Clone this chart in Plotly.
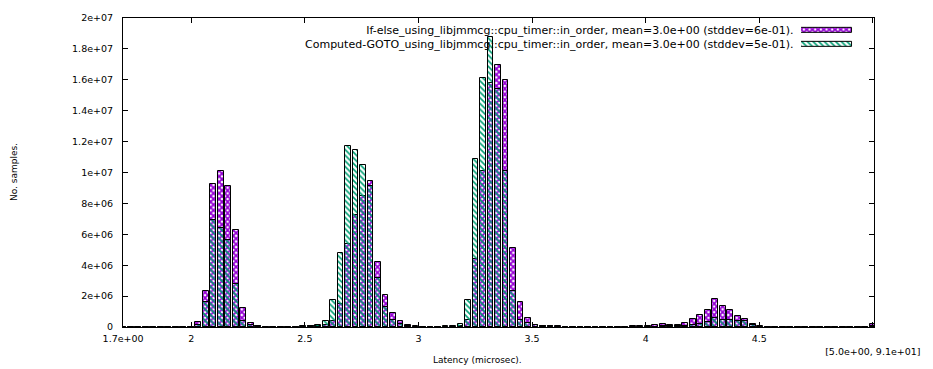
import plotly.graph_objects as go

# ---- data (values in millions of samples) ----
latency_us = [
    1.700, 1.733, 1.766, 1.799, 1.832, 1.865, 1.898, 1.931, 1.964, 1.997,
    2.030, 2.063, 2.096, 2.129, 2.162, 2.195, 2.228, 2.261, 2.294, 2.327,
    2.360, 2.393, 2.426, 2.459, 2.492, 2.525, 2.558, 2.591, 2.624, 2.657,
    2.690, 2.723, 2.756, 2.789, 2.822, 2.855, 2.888, 2.921, 2.954, 2.987,
    3.020, 3.053, 3.086, 3.119, 3.152, 3.185, 3.218, 3.251, 3.284, 3.317,
    3.350, 3.383, 3.416, 3.449, 3.482, 3.515, 3.548, 3.581, 3.614, 3.647,
    3.680, 3.713, 3.746, 3.779, 3.812, 3.845, 3.878, 3.911, 3.944, 3.977,
    4.010, 4.043, 4.076, 4.109, 4.142, 4.175, 4.208, 4.241, 4.274, 4.307,
    4.340, 4.373, 4.406, 4.439, 4.472, 4.505, 4.538, 4.571, 4.604, 4.637,
    4.670, 4.703, 4.736, 4.769, 4.802, 4.835, 4.868, 4.901, 4.934, 4.967,
    5.000,
]

if_else_millions = [
    0, 0, 0, 0, 0, 0, 0, 0.01, 0.02, 0.03,
    0.3, 2.3, 9.25, 10.1, 9.15, 6.3, 1.25, 0.25, 0.06, 0.03,
    0.02, 0.02, 0.02, 0.02, 0.03, 0.04, 0.05, 0.1, 0.4, 1.5,
    5.4, 7.24, 8.45, 9.45, 4.2, 2.1, 0.88, 0.36, 0.1, 0.04,
    0.02, 0.02, 0.02, 0.03, 0.03, 0.05, 0.46, 4.4, 10.1, 15.8,
    16.97, 16.0, 5.1, 1.6, 0.6, 0.15, 0.08, 0.05, 0.04, 0.03,
    0.02, 0.02, 0.02, 0.02, 0.02, 0.02, 0.03, 0.03, 0.04, 0.05,
    0.06, 0.1, 0.19, 0.1, 0.12, 0.23, 0.53, 0.76, 1.1, 1.83,
    1.37, 1.1, 0.74, 0.53, 0.19, 0.05, 0.03, 0.02, 0.01, 0.01,
    0.01, 0.01, 0, 0, 0, 0, 0, 0, 0, 0,
    0.2,
]

computed_goto_millions = [
    0, 0, 0, 0, 0, 0, 0, 0, 0.01, 0.02,
    0.12, 1.6, 6.9, 6.4, 5.6, 2.8, 0.4, 0.1, 0.04, 0.03,
    0.02, 0.02, 0.02, 0.03, 0.04, 0.06, 0.15, 0.42, 1.72, 4.78,
    11.7, 11.46, 10.5, 9.15, 3.2, 1.3, 0.46, 0.2, 0.06, 0.03,
    0.02, 0.02, 0.03, 0.04, 0.05, 0.2, 1.72, 10.9, 16.1, 18.8,
    15.4, 10.1, 2.3, 0.46, 0.25, 0.12, 0.05, 0.04, 0.03, 0.02,
    0.02, 0.02, 0.02, 0.02, 0.02, 0.01, 0.01, 0.01, 0.01, 0.01,
    0.01, 0.03, 0.05, 0.05, 0.05, 0.08, 0.1, 0.18, 0.3, 0.57,
    0.46, 0.46, 0.4, 0.4, 0.1, 0.03, 0.02, 0.01, 0, 0,
    0, 0, 0, 0, 0, 0, 0, 0, 0, 0,
    0.05,
]

series_names = [
    "If-else_using_libjmmcg::cpu_timer::in_order, mean=3.0e+00 (stddev=6e-01).",
    "Computed-GOTO_using_libjmmcg::cpu_timer::in_order, mean=3.0e+00 (stddev=5e-01).",
]

x_tick_vals = [1.7, 2, 2.5, 3, 3.5, 4, 4.5, 5.0]
x_tick_text = ["1.7e+00", "2", "2.5", "3", "3.5", "4", "4.5", "<br>[5.0e+00, 9.1e+01]"]
y_tick_vals = [0, 2e6, 4e6, 6e6, 8e6, 1e7, 1.2e7, 1.4e7, 1.6e7, 1.8e7, 2e7]
y_tick_text = ["0", "2e+06", "4e+06", "6e+06", "8e+06", "1e+07", "1.2e+07",
               "1.4e+07", "1.6e+07", "1.8e+07", "2e+07"]

PURPLE = "#9400d3"
GREEN = "#009e73"
FONT = "DejaVu Sans"

purple_pattern = dict(shape="x", fillmode="replace", fgcolor=PURPLE, bgcolor="white",
                      size=4, solidity=0.7)
green_pattern = dict(shape="\\", fillmode="replace", fgcolor=GREEN,
                     bgcolor="rgba(0,0,0,0)", size=4, solidity=0.4)

fig = go.Figure()
fig.add_trace(go.Bar(
    x=latency_us, y=[v * 1e6 for v in if_else_millions], width=0.026,
    name=series_names[0],
    marker=dict(color=PURPLE, pattern=purple_pattern, line=dict(color="black", width=1)),
))
fig.add_trace(go.Bar(
    x=latency_us, y=[v * 1e6 for v in computed_goto_millions], width=0.026,
    name=series_names[1],
    marker=dict(color=GREEN, pattern=green_pattern, line=dict(color="black", width=1)),
))

# legend key swatches (drawn right of the texts, gnuplot style)
fig.add_trace(go.Bar(
    x=[1], y=[1], base=0, orientation="h", width=0.36, xaxis="x2", yaxis="y2",
    marker=dict(color=PURPLE, pattern=purple_pattern, line=dict(color="black", width=1)),
    hoverinfo="skip",
))
fig.add_trace(go.Bar(
    x=[1], y=[0], base=0, orientation="h", width=0.36, xaxis="x2", yaxis="y2",
    marker=dict(color=GREEN, pattern=green_pattern, line=dict(color="black", width=1)),
    hoverinfo="skip",
))

L, R, T, B = 123, 48, 12, 40
W, H = 933, 369
pw, ph = W - L - R, H - T - B

def px_to_paper_x(px):
    return (px - L) / pw

def px_to_paper_y(py):
    return (H - B - py) / ph

fig.update_layout(
    width=W, height=H,
    margin=dict(l=L, r=R, t=T, b=B, pad=0),
    barmode="overlay",
    bargap=0,
    showlegend=False,
    paper_bgcolor="white",
    plot_bgcolor="white",
    font=dict(family=FONT, size=9.5, color="black"),
    xaxis=dict(
        range=[1.6995, 5.005], tickvals=x_tick_vals, ticktext=x_tick_text,
        ticks="inside", ticklen=5, tickcolor="black", tickwidth=1,
        showline=True, linecolor="black", linewidth=1, mirror="ticks",
        showgrid=False, zeroline=False, ticklabelstandoff=3,
        tickfont=dict(family=FONT, size=9.5),
    ),
    yaxis=dict(
        range=[0, 2.0001e7], tickvals=y_tick_vals, ticktext=y_tick_text,
        ticks="inside", ticklen=5, tickcolor="black", tickwidth=1,
        showline=True, linecolor="black", linewidth=1, mirror="ticks",
        showgrid=False, zeroline=False, ticklabelstandoff=7,
        tickfont=dict(family=FONT, size=9.5),
    ),
    xaxis2=dict(domain=[px_to_paper_x(811), px_to_paper_x(863)], range=[0, 1],
                anchor="y2", visible=False, fixedrange=True),
    yaxis2=dict(domain=[px_to_paper_y(46), px_to_paper_y(18)], range=[-0.5, 1.5],
                anchor="x2", visible=False, fixedrange=True),
)

annotations = [
    dict(text=series_names[0] + "<br>" + series_names[1],
         x=px_to_paper_x(805), y=px_to_paper_y(32),
         xref="paper", yref="paper", xanchor="right", yanchor="middle", align="right",
         showarrow=False, font=dict(family=FONT, size=11)),
    dict(text="Latency (microsec).", x=px_to_paper_x(483), y=px_to_paper_y(363),
         xref="paper", yref="paper", xanchor="center", yanchor="middle",
         showarrow=False, font=dict(family=FONT, size=9)),
    dict(text="No. samples.", x=px_to_paper_x(12), y=0.5, textangle=-90,
         xref="paper", yref="paper", xanchor="center", yanchor="middle",
         showarrow=False, font=dict(family=FONT, size=9)),
]
fig.update_layout(annotations=annotations)

fig.write_html("out.html")
